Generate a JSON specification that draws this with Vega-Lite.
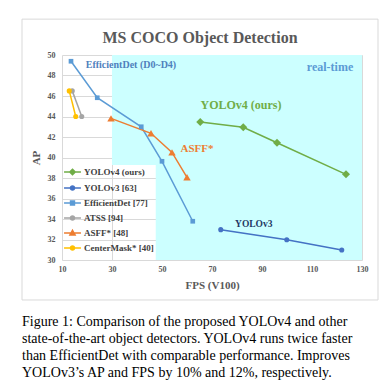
{
  "$schema": "https://vega.github.io/schema/vega-lite/v6.json",
  "width": 300,
  "height": 205,
  "autosize": {"type": "none"},
  "padding": {"left": 62, "top": 55, "right": 30, "bottom": 129},
  "background": "white",
  "title": {"text": "MS COCO Object Detection", "font": "Liberation Serif", "fontSize": 16, "fontWeight": "bold", "color": "#595959", "frame": "group", "anchor": "middle", "dx": -12, "offset": -40.2, "baseline": "alphabetic"},
  "config": {
    "view": {"stroke": null},
    "axis": {"grid": true, "gridColor": "#d9d9d9", "gridWidth": 1, "domain": false, "ticks": false, "labelFont": "Liberation Serif", "labelFontSize": 8, "labelFontWeight": "bold", "labelColor": "#595959", "titleFont": "Liberation Serif", "titleFontSize": 11, "titleFontWeight": "bold", "titleColor": "#595959", "zindex": 1, "labelFlush": false, "labelOverlap": false}
  },
  "datasets": {
    "pts": [
      {"series": "YOLOv4 (ours)", "fps": 65.3, "ap": 43.46},
      {"series": "YOLOv4 (ours)", "fps": 82.5, "ap": 42.95},
      {"series": "YOLOv4 (ours)", "fps": 96.0, "ap": 41.44},
      {"series": "YOLOv4 (ours)", "fps": 123.6, "ap": 38.36},
      {"series": "YOLOv3 [63]", "fps": 73.5, "ap": 32.96},
      {"series": "YOLOv3 [63]", "fps": 99.9, "ap": 31.98},
      {"series": "YOLOv3 [63]", "fps": 121.9, "ap": 30.98},
      {"series": "EfficientDet [77]", "fps": 13.6, "ap": 49.39},
      {"series": "EfficientDet [77]", "fps": 24.1, "ap": 45.83},
      {"series": "EfficientDet [77]", "fps": 41.7, "ap": 43.0},
      {"series": "EfficientDet [77]", "fps": 50.0, "ap": 39.63},
      {"series": "EfficientDet [77]", "fps": 62.3, "ap": 33.78},
      {"series": "ATSS [94]", "fps": 14.1, "ap": 46.5},
      {"series": "ATSS [94]", "fps": 17.9, "ap": 44.0},
      {"series": "ASFF* [48]", "fps": 29.6, "ap": 43.82},
      {"series": "ASFF* [48]", "fps": 45.6, "ap": 42.36},
      {"series": "ASFF* [48]", "fps": 54.0, "ap": 40.5},
      {"series": "ASFF* [48]", "fps": 60.0, "ap": 38.07},
      {"series": "CenterMask* [40]", "fps": 12.9, "ap": 46.5},
      {"series": "CenterMask* [40]", "fps": 15.5, "ap": 44.0}
    ],
    "zones": [
      {"fps": 30, "fps2": 130, "ap": 39.27, "ap2": 50},
      {"fps": 47.5, "fps2": 130, "ap": 30, "ap2": 39.27}
    ],
    "ann": [
      {"label": "EfficientDet (D0~D4)", "fps": 19.5, "ap": 49.0},
      {"label": "real-time", "fps": 126.5, "ap": 48.86},
      {"label": "YOLOv4 (ours)", "fps": 81.6, "ap": 45.1},
      {"label": "ASFF*", "fps": 64.0, "ap": 40.8},
      {"label": "YOLOv3", "fps": 86.7, "ap": 33.5}
    ]
  },
  "layer": [
    {
      "data": {"name": "zones"},
      "mark": {"type": "rect", "fill": "#ccffff"},
      "encoding": {
        "x": {"field": "fps", "type": "quantitative", "scale": {"domain": [10, 130], "nice": false, "zero": false}, "axis": {"title": "FPS (V100)", "values": [10, 30, 50, 70, 90, 110, 130], "labelPadding": 5, "titlePadding": 6, "labelOverlap": false}},
        "x2": {"field": "fps2"},
        "y": {"field": "ap", "type": "quantitative", "scale": {"domain": [30, 50], "nice": false, "zero": false}, "axis": {"title": "AP", "tickCount": 10, "labelPadding": 7, "titlePadding": 6, "labelOverlap": false, "labelBound": false, "labelBaseline": "middle"}},
        "y2": {"field": "ap2"}
      }
    },
    {
      "data": {"values": [{}]},
      "mark": {"type": "rect", "fill": "transparent", "stroke": "#d9d9d9", "strokeWidth": 1},
      "encoding": {
        "x": {"datum": -6, "type": "quantitative", "scale": {"domain": [10, 130], "nice": false, "zero": false}},
        "x2": {"datum": 136.4},
        "y": {"datum": 53.5, "type": "quantitative", "scale": {"domain": [30, 50], "nice": false, "zero": false}},
        "y2": {"datum": 26.1}
      }
    },
    {
      "data": {"name": "pts"},
      "mark": {"type": "line", "strokeWidth": 1.5},
      "encoding": {
        "x": {"field": "fps", "type": "quantitative", "scale": {"domain": [10, 130], "nice": false, "zero": false}},
        "y": {"field": "ap", "type": "quantitative", "scale": {"domain": [30, 50], "nice": false, "zero": false}},
        "color": {
          "field": "series", "type": "nominal",
          "scale": {"domain": ["YOLOv4 (ours)", "YOLOv3 [63]", "EfficientDet [77]", "ATSS [94]", "ASFF* [48]", "CenterMask* [40]"], "range": ["#70ad47", "#4472c4", "#5b9bd5", "#a5a5a5", "#ed7d31", "#ffc000"]},
          "legend": {
            "orient": "none", "legendX": 3, "legendY": 109.5, "title": null, "padding": 0,
            "symbolSize": 169, "symbolStrokeWidth": 1.5,
            "labelFont": "Liberation Serif", "labelFontSize": 9, "labelFontWeight": "bold", "labelColor": "#404040", "labelOffset": 4, "rowPadding": 2, "labelLimit": 200,
            "encode": {"symbols": {"update": {
              "shape": {"signal": "datum.value === 'YOLOv4 (ours)' ? 'M-1.3,0H1.3M0,-0.42L0.42,0L0,0.42L-0.42,0Z' : datum.value === 'EfficientDet [77]' ? 'M-1.3,0H1.3M-0.3,-0.3H0.3V0.3H-0.3Z' : datum.value === 'ASFF* [48]' ? 'M-1.3,0H1.3M0,-0.42L0.4,0.3H-0.4Z' : 'M-1.3,0H1.3M0.32,0A0.32,0.32,0,1,1,-0.32,0A0.32,0.32,0,1,1,0.32,0Z'"},
              "fill": {"signal": "scale('color', datum.value)"},
              "stroke": {"signal": "scale('color', datum.value)"},
              "strokeWidth": {"value": 1.5},
              "opacity": {"value": 1}
            }}}
          }
        }
      }
    },
    {
      "data": {"name": "pts"},
      "transform": [{"filter": "datum.series === 'YOLOv4 (ours)'"}],
      "mark": {"type": "point", "filled": true, "opacity": 1, "shape": "diamond", "size": 64},
      "encoding": {
        "x": {"field": "fps", "type": "quantitative"},
        "y": {"field": "ap", "type": "quantitative"},
        "color": {"field": "series", "type": "nominal"}
      }
    },
    {
      "data": {"name": "pts"},
      "transform": [{"filter": "datum.series === 'EfficientDet [77]'"}],
      "mark": {"type": "point", "filled": true, "opacity": 1, "shape": "square", "size": 22},
      "encoding": {
        "x": {"field": "fps", "type": "quantitative"},
        "y": {"field": "ap", "type": "quantitative"},
        "color": {"field": "series", "type": "nominal"}
      }
    },
    {
      "data": {"name": "pts"},
      "transform": [{"filter": "datum.series === 'ASFF* [48]'"}],
      "mark": {"type": "point", "filled": true, "opacity": 1, "shape": "triangle-up", "size": 55},
      "encoding": {
        "x": {"field": "fps", "type": "quantitative"},
        "y": {"field": "ap", "type": "quantitative"},
        "color": {"field": "series", "type": "nominal"}
      }
    },
    {
      "data": {"name": "pts"},
      "transform": [{"filter": "datum.series === 'YOLOv3 [63]' || datum.series === 'ATSS [94]' || datum.series === 'CenterMask* [40]'"}],
      "mark": {"type": "point", "filled": true, "opacity": 1, "shape": "circle", "size": 26},
      "encoding": {
        "x": {"field": "fps", "type": "quantitative"},
        "y": {"field": "ap", "type": "quantitative"},
        "color": {"field": "series", "type": "nominal"}
      }
    },
    {
      "data": {"name": "ann"},
      "transform": [{"filter": "datum.label === 'EfficientDet (D0~D4)'"}],
      "mark": {"type": "text", "font": "Liberation Serif", "fontSize": 10, "fontWeight": "bold", "color": "#4f81bd", "align": "left", "baseline": "middle"},
      "encoding": {"x": {"field": "fps", "type": "quantitative"}, "y": {"field": "ap", "type": "quantitative"}, "text": {"field": "label"}}
    },
    {
      "data": {"name": "ann"},
      "transform": [{"filter": "datum.label === 'real-time'"}],
      "mark": {"type": "text", "font": "Liberation Serif", "fontSize": 12, "fontWeight": "bold", "color": "#5b9bd5", "align": "right", "baseline": "middle"},
      "encoding": {"x": {"field": "fps", "type": "quantitative"}, "y": {"field": "ap", "type": "quantitative"}, "text": {"field": "label"}}
    },
    {
      "data": {"name": "ann"},
      "transform": [{"filter": "datum.label === 'YOLOv4 (ours)'"}],
      "mark": {"type": "text", "font": "Liberation Serif", "fontSize": 12, "fontWeight": "bold", "color": "#70ad47", "align": "center", "baseline": "middle"},
      "encoding": {"x": {"field": "fps", "type": "quantitative"}, "y": {"field": "ap", "type": "quantitative"}, "text": {"field": "label"}}
    },
    {
      "data": {"name": "ann"},
      "transform": [{"filter": "datum.label === 'ASFF*'"}],
      "mark": {"type": "text", "font": "Liberation Serif", "fontSize": 11, "fontWeight": "bold", "color": "#ed7d31", "align": "center", "baseline": "middle"},
      "encoding": {"x": {"field": "fps", "type": "quantitative"}, "y": {"field": "ap", "type": "quantitative"}, "text": {"field": "label"}}
    },
    {
      "data": {"name": "ann"},
      "transform": [{"filter": "datum.label === 'YOLOv3'"}],
      "mark": {"type": "text", "font": "Liberation Serif", "fontSize": 9.5, "fontWeight": "bold", "color": "#1f3864", "align": "center", "baseline": "middle"},
      "encoding": {"x": {"field": "fps", "type": "quantitative"}, "y": {"field": "ap", "type": "quantitative"}, "text": {"field": "label"}}
    },
    {
      "data": {"values": [{}]},
      "mark": {"type": "text", "font": "Liberation Serif", "fontSize": 14, "color": "#000000", "align": "left", "baseline": "alphabetic", "lineHeight": 17.1,
        "text": ["Figure 1: Comparison of the proposed YOLOv4 and other", "state-of-the-art object detectors. YOLOv4 runs twice faster", "than EfficientDet with comparable performance. Improves", "YOLOv3’s AP and FPS by 10% and 12%, respectively."]},
      "encoding": {
        "x": {"datum": -6, "type": "quantitative"},
        "y": {"datum": 23.56, "type": "quantitative"}
      }
    }
  ]
}
